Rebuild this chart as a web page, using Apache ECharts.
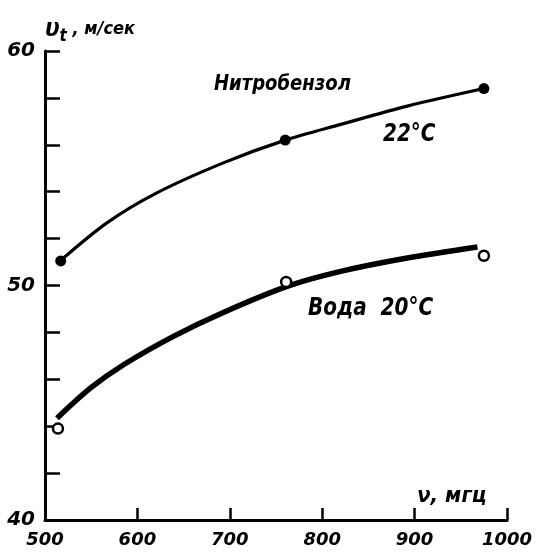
<!DOCTYPE html>
<html><head><meta charset="utf-8">
<script src="https://cdn.jsdelivr.net/npm/echarts@6/dist/echarts.min.js"></script>
<style>html,body{margin:0;padding:0;background:#fff}#c{width:551px;height:554px}</style>
</head><body><div id="c"></div>
<script>
// Measured points
const nitroFreq = [517, 760, 975];
const nitroSpeed = [51.05, 56.2, 58.4];
const waterFreq = [514, 761, 975];
const waterSpeed = [43.9, 50.15, 51.27];
// Fitted curves as drawn in the picture
const nitroCurveFreq = [517, 567, 621, 693, 760, 820, 892, 975];
const nitroCurveSpeed = [51.07, 52.67, 53.95, 55.23, 56.2, 56.87, 57.65, 58.4];
const waterCurveFreq = [513, 549, 585, 639, 693, 762, 820, 892, 968];
const waterCurveSpeed = [44.34, 45.62, 46.62, 47.83, 48.85, 49.96, 50.6, 51.17, 51.64];
// Axis ticks
const xTicks = [500, 600, 700, 800, 900, 1000];
const yLabelValues = [40, 50, 60];

const FONT = "'DejaVu Sans','Liberation Sans',sans-serif";
const zip = (a, b) => a.map((v, i) => [v, b[i]]);

const chart = echarts.init(document.getElementById('c'), null, {renderer: 'canvas'});
chart.setOption({
  animation: false,
  backgroundColor: '#fff',
  grid: {left: 45, right: 44, top: 51, bottom: 34, containLabel: false},
  xAxis: {
    type: 'value', min: xTicks[0], max: xTicks[xTicks.length - 1], interval: 100,
    axisLine: {show: true, lineStyle: {color: '#000', width: 3}},
    axisTick: {show: true, inside: true, length: 12, lineStyle: {color: '#000', width: 2.5}},
    splitLine: {show: false},
    axisLabel: {show: true, margin: 11, color: '#000', fontFamily: FONT, fontSize: 18,
      fontStyle: 'italic', fontWeight: 'bold',
      formatter: v => xTicks.includes(v) ? String(v) : ''}
  },
  yAxis: {
    type: 'value', min: 40, max: 60, interval: 2,
    axisLine: {show: true, lineStyle: {color: '#000', width: 3}},
    axisTick: {show: true, inside: true, length: 15, lineStyle: {color: '#000', width: 2.5}},
    splitLine: {show: false},
    axisLabel: {show: true, margin: 10, color: '#000', fontFamily: FONT, fontSize: 20,
      fontStyle: 'italic', fontWeight: 'bold',
      formatter: v => yLabelValues.includes(v) ? String(v) : ''}
  },
  series: [
    {type: 'line', data: zip(nitroCurveFreq, nitroCurveSpeed), smooth: 0.3,
      showSymbol: false, lineStyle: {color: '#000', width: 3.2}, z: 2},
    {type: 'line', data: zip(waterCurveFreq, waterCurveSpeed), smooth: 0.3,
      showSymbol: false, lineStyle: {color: '#000', width: 5.5}, z: 2},
    {type: 'scatter', data: zip(nitroFreq, nitroSpeed), symbol: 'circle', symbolSize: 11,
      itemStyle: {color: '#000', opacity: 1}, z: 3},
    {type: 'scatter', data: zip(waterFreq, waterSpeed), symbol: 'circle', symbolSize: 10,
      itemStyle: {color: '#fff', borderColor: '#000', borderWidth: 2.5, opacity: 1}, z: 3}
  ],
  graphic: [
    {type: 'text', x: 45, y: 14, scaleX: 0.9, style: {
      text: '{v|υ}{s|t}{u| , м/сек}', fill: '#000',
      rich: {
        v: {fontFamily: FONT, fontSize: 24, fontStyle: 'italic', fontWeight: 'bold', fill: '#000'},
        s: {fontFamily: FONT, fontSize: 17, fontStyle: 'italic', fontWeight: 'bold', fill: '#000', padding: [14, 0, 0, 0]},
        u: {fontFamily: FONT, fontSize: 18, fontStyle: 'italic', fontWeight: 'bold', fill: '#000'}
      }}},
    {type: 'text', x: 417, y: 486, scaleX: 0.95, style: {
      text: 'ν, мгц', fill: '#000', fontFamily: FONT, fontSize: 21, fontStyle: 'italic', fontWeight: 'bold'}},
    {type: 'text', x: 214, y: 73, scaleX: 0.82, style: {
      text: 'Нитробензол', fill: '#000', fontFamily: FONT, fontSize: 22, fontStyle: 'italic', fontWeight: 'bold'}},
    {type: 'text', x: 383, y: 122, scaleX: 0.8, style: {
      text: '22°C', fill: '#000', fontFamily: FONT, fontSize: 25, fontStyle: 'italic', fontWeight: 'bold'}},
    {type: 'text', x: 308, y: 296, scaleX: 0.8, style: {
      text: 'Вода  20°С', fill: '#000', fontFamily: FONT, fontSize: 25, fontStyle: 'italic', fontWeight: 'bold'}}
  ]
});
</script></body></html>
